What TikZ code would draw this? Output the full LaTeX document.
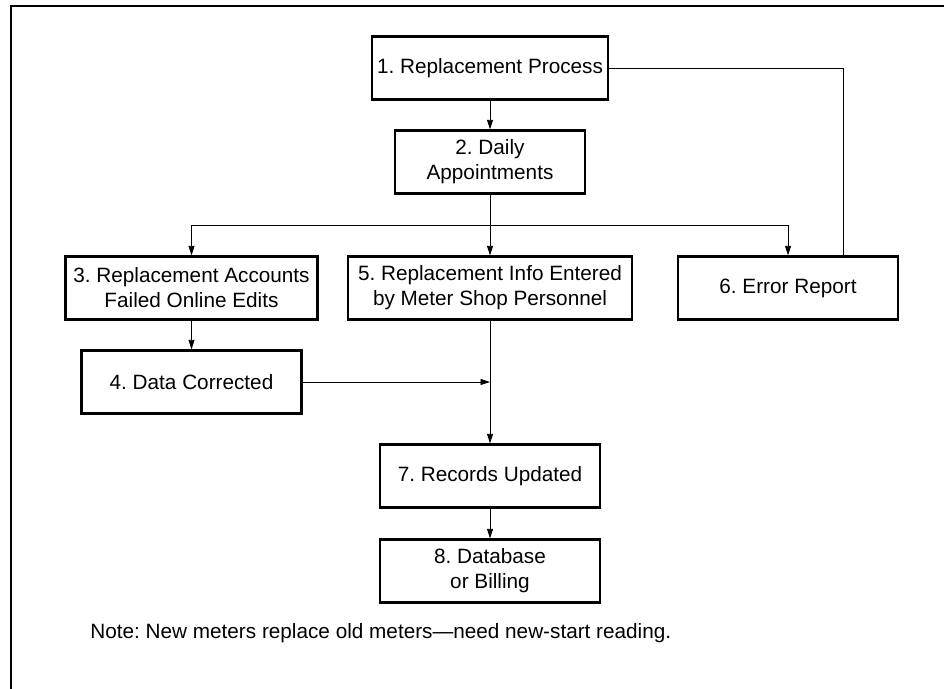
\documentclass[tikz,border=0pt]{standalone}
\usepackage{fontspec}
\setmainfont{Liberation Sans}
\usetikzlibrary{arrows.meta}
\frenchspacing

\begin{document}
\begin{tikzpicture}[
  procbox/.style={draw, line width=1.3pt, align=center, inner sep=0pt,
    font=\fontsize{11.8}{14.2}\selectfont, minimum height=1.26cm},
  flow/.style={-{Triangle[length=1.9mm,width=1.2mm]}, line width=0.5pt}]
\useasboundingbox (0,0) rectangle (18.88,13.78);
% Frame
\draw[line width=1.2pt] (0.22,0) -- (0.22,13.66) -- (18.88,13.66);
\node[procbox, minimum width=4.72cm] (b1) at (9.8,12.42) {1. Replacement Process};
\node[procbox, minimum width=3.8cm] (b2) at (9.8,10.54) {2. Daily\\Appointments};
\node[procbox, minimum width=5.04cm] (b3) at (3.83,8.02) {3. Replacement Accounts\\Failed Online Edits};
\node[procbox, minimum width=4.4cm] (b4) at (3.83,6.14) {4. Data Corrected};
\node[procbox, minimum width=5.68cm] (b5) at (9.8,8.02) {5. Replacement Info Entered\\by Meter Shop Personnel};
\node[procbox, minimum width=4.4cm] (b6) at (15.76,8.02) {6. Error Report};
\node[procbox, minimum width=4.4cm] (b7) at (9.8,4.26) {7. Records Updated};
\node[procbox, minimum width=4.4cm] (b8) at (9.8,2.36) {8. Database\\or Billing};
\node[anchor=west, inner sep=0pt, font=\fontsize{11.8}{14.2}\selectfont] (note) at (1.8,1.12)
  {Note: New meters replace old meters---need new-start reading.};
% Arrows
\coordinate (split) at (9.8,9.28);
\draw[flow] (b1) -- (b2);
\draw[flow] (b2) -- (b5);
\draw[flow] (split) -| (b3.north);
\draw[flow] (split) -| (b6.north);
\draw[flow] (b3) -- (b4);
\draw[flow] (b4.east) -- (b4.east -| b5.south);
\draw[flow] (b5) -- (b7);
\draw[flow] (b7) -- (b8);
% Error report back to replacement process
\draw[line width=0.5pt] (b6.north) ++(1.1,0) |- (b1.east);
\end{tikzpicture}
\end{document}
